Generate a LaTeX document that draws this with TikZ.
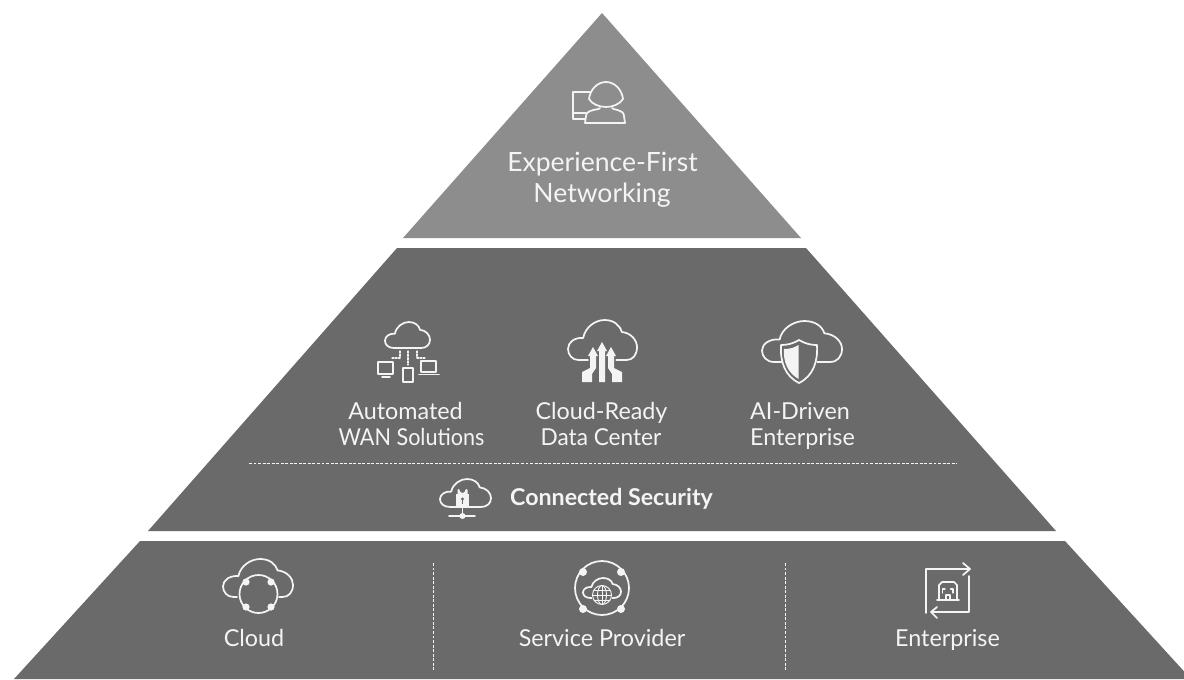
\documentclass[tikz,border=0pt]{standalone}
\usepackage{fontspec}
\setmainfont{Lato}
\definecolor{tiertop}{HTML}{8D8D8D}
\definecolor{tierdark}{HTML}{6A6A6A}
\definecolor{iconw}{HTML}{F4F4F4}
\tikzset{
  icon/.style={draw=iconw,line width=1.3pt,line join=round,line cap=round},
  label/.style={text=iconw,anchor=base,inner sep=0pt,font=\fontsize{17.5pt}{19pt}\selectfont},
  biglabel/.style={label,font=\fontsize{19.9pt}{21pt}\selectfont},
  boldlabel/.style={label,font=\fontsize{17.4pt}{19pt}\selectfont\bfseries},
  rulew/.style={draw=iconw,line width=0.7pt,dash pattern=on 2.2pt off 1.2pt},
}
% closed cloud: x, y, width, height
\newcommand\closedcloud[4]{%
  \draw[icon,shift={(#1,#2)},x=#3*0.75pt,y=-#4*0.75pt]
    (0.2,1) .. controls (0.07,1) and (0,0.87) .. (0,0.72)
    .. controls (0,0.55) and (0.1,0.43) .. (0.22,0.45)
    .. controls (0.25,0.17) and (0.4,0) .. (0.53,0)
    .. controls (0.66,0) and (0.75,0.12) .. (0.78,0.3)
    .. controls (0.91,0.32) and (1,0.5) .. (1,0.68)
    .. controls (1,0.87) and (0.92,1) .. (0.8,1) -- cycle;}
% open cloud: x, y, width, height, left end, right end (fractions of the width)
\newcommand\opencloud[6]{%
  \draw[icon,shift={(#1,#2)},x=#3*0.75pt,y=-#4*0.75pt]
    (#5,1) -- (0.15,1) .. controls (0.06,1) and (0,0.87) .. (0,0.72)
    .. controls (0,0.55) and (0.1,0.43) .. (0.22,0.45)
    .. controls (0.25,0.17) and (0.4,0) .. (0.53,0)
    .. controls (0.66,0) and (0.75,0.12) .. (0.78,0.3)
    .. controls (0.91,0.32) and (1,0.5) .. (1,0.68)
    .. controls (1,0.87) and (0.94,1) .. (0.85,1) -- (#6,1);}
\begin{document}
\begin{tikzpicture}[x=0.75pt,y=-0.75pt]
\useasboundingbox[fill=white] (0,0) rectangle (1184,679);
% tiers
\fill[tiertop] (602,13) -- (801,238) -- (403,238) -- cycle;
\fill[tierdark] (397,248) -- (806,248) -- (1056,531) -- (148,531) -- cycle;
\begin{scope}
\clip (0,0) rectangle (1184,679);
\fill[tierdark] (140,541) -- (1065,541) -- (1191,679) -- (14,679) -- cycle;
\end{scope}
% dashed rules
\coordinate (secL) at (249,463); \coordinate (secR) at (957,463);
\coordinate (d1t) at (433,563); \coordinate (d1b) at (433,671);
\coordinate (d2t) at (785,563); \coordinate (d2b) at (785,671);
\draw[rulew] (secL) -- (secR);
\draw[rulew] (d1t) -- (d1b);
\draw[rulew] (d2t) -- (d2b);
% top icon: person at a screen
\draw[icon] (591,92) -- (573,92) -- (573,119) -- (585,119);
\draw[icon] (573,113) -- (586,113);
\draw[icon] (606,82) .. controls (615,82) and (622,90) .. (623,99)
  .. controls (620,104) and (613,107) .. (606,107)
  .. controls (599,107) and (592,104) .. (589,99)
  .. controls (590,90) and (597,82) .. (606,82) -- cycle;
\draw[icon] (600,108) .. controls (600,110) and (586,109) .. (586,116)
  -- (585,123) -- (625,123) -- (624,116)
  .. controls (624,109) and (612,110) .. (612,108);
% automated WAN icon
\closedcloud{385}{322}{45}{26}
\draw[icon,line width=0.9pt,dash pattern=on 1.5pt off 1pt] (408,351) -- (408,365);
\draw[icon,line width=0.9pt,dash pattern=on 1.5pt off 1pt] (400,351) -- (400,358) -- (392,358);
\draw[icon,line width=0.9pt,dash pattern=on 1.5pt off 1pt] (417,351) -- (417,358) -- (425,358);
\draw[icon] (378,362) rectangle (393,374);
\draw[icon] (382,377) -- (390,377);
\draw[icon] (403,368) rectangle (413,382);
\draw[icon] (421,361) -- (436,361) -- (436,372) -- (421,372) -- cycle;
\draw[icon] (419,374.5) -- (439,374.5);
% cloud-ready icon
\opencloud{568}{320}{69}{40}{0.29}{0.7}
\fill[iconw] (602,342) -- (607,351) -- (605,351) -- (605,382) -- (599,382) -- (599,351) -- (597,351) -- cycle;
\fill[iconw] (593,347) -- (598,356) -- (596,356) -- (596,368) -- (592,374) -- (592,382) -- (582,382) -- (582,372) -- (590,368) -- (590,356) -- (588,356) -- cycle;
\fill[iconw] (611,347) -- (616,356) -- (614,356) -- (614,368) -- (622,372) -- (622,382) -- (612,382) -- (612,374) -- (608,368) -- (608,356) -- (606,356) -- cycle;
% AI-driven icon
\opencloud{762}{321}{80}{41}{0.25}{0.69}
\draw[icon] (799,340) .. controls (806,344) and (811,345) .. (817,345)
  .. controls (818,362) and (813,376) .. (799,383)
  .. controls (785,376) and (780,362) .. (781,345)
  .. controls (787,345) and (792,344) .. (799,340) -- cycle;
\fill[iconw] (798.5,345) -- (798.5,379) .. controls (788,373) and (783,362) .. (784,349) .. controls (789,349) and (794,348) .. (798.5,345) -- cycle;
% connected security icon
\closedcloud{440}{479}{51}{28}
\fill[iconw] (456,494) rectangle (469,507);
\draw[icon,line width=1.5pt] (458.5,494) -- (458.5,490) arc[start angle=180,end angle=0,radius=4] -- (466.5,494);
\fill[tierdark] (462.5,499) circle[radius=1.6];
\fill[tierdark] (461.7,499) rectangle (463.3,504);
\draw[icon] (462.5,507) -- (462.5,516);
\draw[icon] (449,516) -- (475,516);
\fill[iconw] (462.5,516) circle[radius=3];
% cloud icon
\opencloud{223}{559}{70}{38}{0.2}{0.8}
\draw[icon] (258.5,594) circle[radius=19];
\foreach \dx/\dy in {246/582,271/582,246/607,271/607} \fill[iconw] (\dx,\dy) circle[radius=3.6];
% service provider icon
\draw[icon] (602,588) circle[radius=27];
\foreach \dx/\dy in {583/572,621/572,583/609,621/609} \fill[iconw] (\dx,\dy) circle[radius=4];
\closedcloud{583}{578}{38}{20}
\fill[tierdark] (602,595) circle[radius=10.5];
\draw[icon,line width=0.7pt] (602,595) circle[radius=9.5];
\draw[icon,line width=0.7pt] (602,595) ellipse[x radius=4.5,y radius=9.5];
\draw[icon,line width=0.7pt] (602,585.5) -- (602,604.5);
\draw[icon,line width=0.7pt] (592.5,595) -- (611.5,595);
\draw[icon,line width=0.7pt] (594,590) -- (610,590);
\draw[icon,line width=0.7pt] (594,600) -- (610,600);
% enterprise icon
\draw[icon] (926,613) -- (926,569) -- (969,569);
\draw[icon] (963,563) -- (970,569) -- (963,575);
\draw[icon] (969,576) -- (969,612) -- (932,612);
\draw[icon] (937,607) -- (931,612) -- (937,618);
\draw[icon] (939,600) -- (939,585) -- (942,582) -- (954,582) -- (957,585) -- (957,600);
\draw[icon] (937,600) -- (959,600);
\draw[icon,line width=0.8pt] (942.5,593) -- (942.5,589) -- (945,589);
\draw[icon,line width=0.8pt] (953,593) -- (953,589) -- (950.5,589);
\draw[icon,line width=0.8pt] (946,600) -- (946,595) -- (950,595) -- (950,600);
% labels
\node[biglabel] (ef) at (602.5,171) {Experience-First};
\node[biglabel] (nw) at (602,202) {Networking};
\node[label] (au) at (405.5,419) {Automated};
\node[label,xscale=0.925] (wan) at (411.5,445) {WAN Solutions};
\node[label] (cr) at (601.5,419) {Cloud-Ready};
\node[label,xscale=0.97] (dc) at (601,445) {Data Center};
\node[label] (ai) at (800,419) {AI-Driven};
\node[label] (en) at (802.5,445) {Enterprise};
\node[boldlabel] (cs) at (611.5,505) {Connected Security};
\node[label] (cl) at (254,646) {Cloud};
\node[label] (sp) at (602,646) {Service Provider};
\node[label] (ee) at (947.5,646) {Enterprise};
\end{tikzpicture}
\end{document}
